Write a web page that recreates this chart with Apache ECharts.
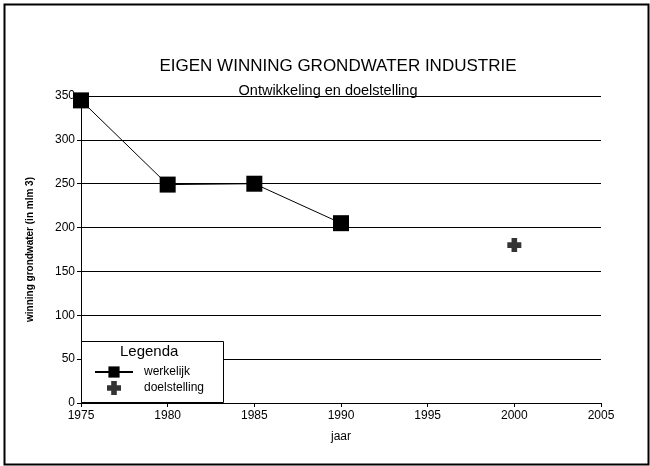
<!DOCTYPE html>
<html><head><meta charset="utf-8">
<script src="https://cdn.jsdelivr.net/npm/echarts@6/dist/echarts.min.js"></script>
<style>html,body{margin:0;padding:0;background:#fff}#c{width:650px;height:466px}</style>
</head><body><div id="c"></div>
<script>
const yearsActual = [1975, 1980, 1985, 1990];
const valuesActual = [345, 249, 250, 205];
const yearsTarget = [2000];
const valuesTarget = [180];
const xTicks = [1975, 1980, 1985, 1990, 1995, 2000, 2005];
const yTicks = [0, 50, 100, 150, 200, 250, 300, 350];

const plusPath = 'path://M3,0 L7,0 L7,3 L10,3 L10,7 L7,7 L7,10 L3,10 L3,7 L0,7 L0,3 L3,3 Z';
const font = 'Liberation Sans, Arial, sans-serif';

const chart = echarts.init(document.getElementById('c'), null, {renderer: 'canvas'});
chart.setOption({
  backgroundColor: '#fff',
  animation: false,
  title: [
    {text: 'EIGEN WINNING GRONDWATER INDUSTRIE', left: 333, textAlign: 'center', top: 53,
     textStyle: {fontFamily: font, fontSize: 17, fontWeight: 'normal', color: '#000'}},
    {text: 'Ontwikkeling en doelstelling', left: 323, textAlign: 'center', top: 78,
     textStyle: {fontFamily: font, fontSize: 14.5, fontWeight: 'normal', color: '#000'}}
  ],
  grid: {left: 81, right: 49, top: 96, bottom: 63},
  xAxis: {
    type: 'value', min: xTicks[0], max: xTicks[xTicks.length - 1], interval: 5,
    name: 'jaar', nameLocation: 'middle', nameGap: 28,
    nameTextStyle: {fontFamily: font, fontSize: 12, color: '#000'},
    axisLine: {lineStyle: {color: '#000', width: 1}},
    axisTick: {show: true, length: 4, lineStyle: {color: '#000'}},
    axisLabel: {fontFamily: font, fontSize: 12, color: '#000', margin: 7, formatter: v => String(v)},
    splitLine: {show: false}
  },
  yAxis: {
    type: 'value', min: yTicks[0], max: yTicks[yTicks.length - 1], interval: 50,
    name: 'winning grondwater (in mlm 3)', nameLocation: 'middle', nameGap: 46,
    nameTextStyle: {fontFamily: font, fontSize: 10, fontWeight: 'bold', color: '#000'},
    axisLine: {show: true, lineStyle: {color: '#000', width: 1}},
    axisTick: {show: true, length: 4, lineStyle: {color: '#000'}},
    axisLabel: {fontFamily: font, fontSize: 12, color: '#000', margin: 6},
    splitLine: {show: true, lineStyle: {color: '#000', width: 1}}
  },
  legend: {
    orient: 'vertical', left: 81, top: 341,
    padding: [25, 10, 6, 13], itemGap: 3, itemWidth: 38, itemHeight: 14,
    textStyle: {fontFamily: font, fontSize: 12, color: '#000', padding: [0, 0, 0, 6]},
    data: ['werkelijk', 'doelstelling'], z: 10
  },
  graphic: [
    {type: 'rect', left: 2, top: 2, shape: {width: 644, height: 460}, style: {fill: 'none', stroke: '#000', lineWidth: 2}, z: 100},
    {type: 'rect', left: 81, top: 341, shape: {width: 142, height: 61}, style: {fill: '#fff', stroke: '#000', lineWidth: 1}, z: 5},
    {type: 'text', left: 120, top: 344, style: {text: 'Legenda', font: '15px ' + font, fill: '#000'}, z: 100}
  ],
  series: [
    {name: 'werkelijk', type: 'line', data: yearsActual.map((y, i) => [y, valuesActual[i]]),
     symbol: 'rect', symbolSize: 16, lineStyle: {color: '#000', width: 1}, itemStyle: {color: '#000'}},
    {name: 'doelstelling', type: 'scatter', data: yearsTarget.map((y, i) => [y, valuesTarget[i]]),
     symbol: plusPath, symbolSize: 14, itemStyle: {color: '#000'}}
  ]
});
</script></body></html>
